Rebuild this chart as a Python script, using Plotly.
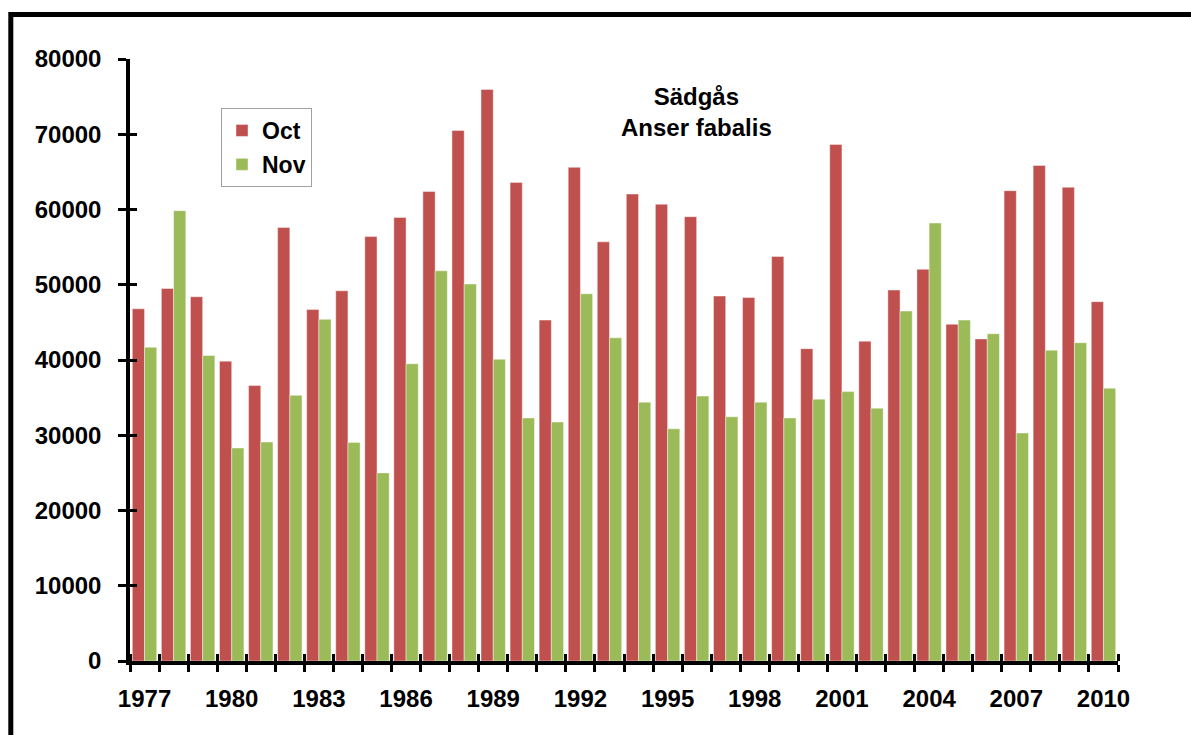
import plotly.graph_objects as go

years = list(range(1977, 2011))
oct_counts = [46800, 49500, 48400, 39850, 36600, 57600, 46700, 49200, 56400, 58950,
              62400, 70500, 75950, 63600, 45300, 65600, 55700, 62050, 60700, 59050,
              48500, 48300, 53750, 41500, 68650, 42500, 49300, 52050, 44750, 42800,
              62500, 65850, 62950, 47750]
nov_counts = [41700, 59850, 40600, 28300, 29100, 35300, 45400, 29050, 25000, 39500,
              51850, 50100, 40100, 32300, 31750, 48800, 42950, 34400, 30850, 35200,
              32450, 34400, 32300, 34800, 35800, 33600, 46500, 58200, 45300, 43500,
              30300, 41300, 42300, 36250]
series_names = ["Oct", "Nov"]
series_colors = ["#C0504D", "#9BBB59"]
title_lines = ["Sädgås", "Anser fabalis"]

FONT = "Liberation Sans, Arial, sans-serif"
W, H = 1191, 735
L, R, T, B = 130, 1118, 59, 661

fig = go.Figure()
for name, vals, col, grp in zip(series_names, [oct_counts, nov_counts], series_colors, ["a", "b"]):
    fig.add_trace(go.Bar(x=years, y=vals, name=name, legendgroup=grp,
                         marker=dict(color=col, line=dict(color="rgba(255,255,255,0.7)", width=0.6))))

# dummy trace for overlay axes (crossing ticks)
fig.add_trace(go.Scatter(x=[None], y=[None], xaxis="x2", yaxis="y2", showlegend=False, hoverinfo="skip"))

def px_x(p):
    return (p - L) / (R - L)

def px_y(p):
    return (B - p) / (B - T)

fig.update_layout(
    width=W, height=H,
    margin=dict(l=L, r=W - R, t=T, b=H - B),
    paper_bgcolor="white", plot_bgcolor="white",
    barmode="group", bargap=0.16, bargroupgap=0,
    font=dict(family=FONT, color="black", size=24, weight="bold"),
    showlegend=True,
    legend=dict(x=px_x(221), y=px_y(108), xanchor="left", yanchor="top",
                bgcolor="white", bordercolor="#A0A0A0", borderwidth=1,
                font=dict(family=FONT, size=23, color="black", weight="bold"),
                traceorder="grouped", tracegroupgap=1, itemwidth=30),
    xaxis=dict(range=[1976.5, 2010.5], tickmode="linear", tick0=1977, dtick=3,
               ticks="", showgrid=False, zeroline=False,
               showline=True, linecolor="black", linewidth=3.5,
               tickfont=dict(family=FONT, size=24, weight="bold"),
               ticklabelstandoff=13,
               minor=dict(tickmode="linear", tick0=1976.5, dtick=1, ticks="outside",
                          ticklen=7, tickwidth=3, tickcolor="black", showgrid=False)),
    yaxis=dict(range=[0, 80000], tickmode="linear", tick0=0, dtick=10000,
               tickformat="d",
               ticks="outside", ticklen=8, tickwidth=3, tickcolor="black",
               showgrid=False, zeroline=False,
               showline=True, linecolor="black", linewidth=3.5,
               tickfont=dict(family=FONT, size=24, weight="bold"),
               ticklabelstandoff=12),
    xaxis2=dict(overlaying="x", matches="x", anchor="y", side="bottom",
                range=[1976.5, 2010.5], showticklabels=False, ticks="",
                showgrid=False, zeroline=False, showline=False,
                minor=dict(tickmode="linear", tick0=1976.5, dtick=1, ticks="inside",
                           ticklen=7, tickwidth=3, tickcolor="black", showgrid=False)),
    yaxis2=dict(overlaying="y", matches="y", anchor="x", side="left",
                range=[0, 80000], tickmode="linear", tick0=0, dtick=10000,
                showticklabels=False, ticks="inside", ticklen=7, tickwidth=3,
                tickcolor="black", showgrid=False, zeroline=False, showline=False),
    annotations=[dict(text="<br>".join(title_lines), xref="paper", yref="paper",
                      x=px_x(696), y=px_y(112), xanchor="center", yanchor="middle",
                      showarrow=False, align="center",
                      font=dict(family=FONT, size=24, color="black", weight="bold"))],
    shapes=[dict(type="rect", xref="paper", yref="paper",
                 x0=px_x(10.8), x1=px_x(1215), y0=px_y(760), y1=px_y(14.5),
                 line=dict(color="black", width=5), fillcolor="rgba(0,0,0,0)", layer="above")],
)

fig.write_html("out.html", config={"displayModeBar": False},
               post_script="document.body.style.margin='0';")
